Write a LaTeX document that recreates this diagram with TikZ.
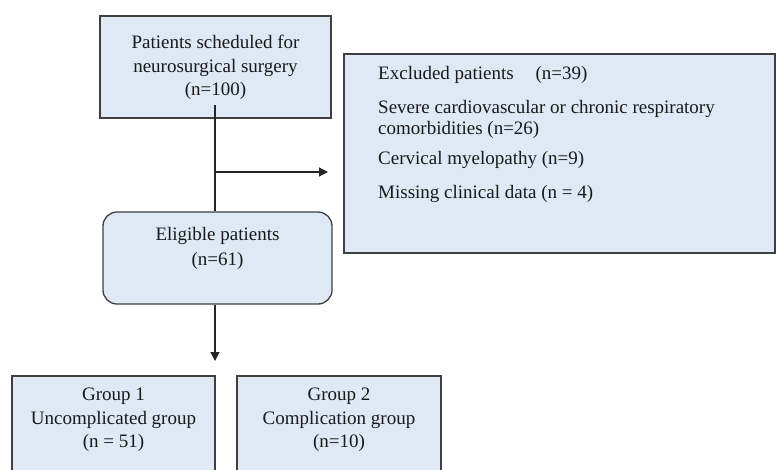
\documentclass[tikz,border=0pt]{standalone}
\usepackage{fontspec}
\setmainfont{Liberation Serif}
\usetikzlibrary{arrows.meta,calc}
\definecolor{boxfill}{HTML}{DEE9F5}
\definecolor{boxline}{HTML}{3F3F3F}
\tikzset{
  box/.style={draw=boxline, fill=boxfill, line width=1.3pt, inner sep=0pt},
  txt/.style={font=\fontsize{19}{23.5}\selectfont, align=center, inner sep=0pt, text=black!90},
  ltxt/.style={font=\fontsize{19}{21.5}\selectfont, align=left, anchor=base west, inner sep=0pt, text=black!90},
  conn/.style={draw=black!85, line width=1.2pt},
  arr/.style={conn, -{Triangle[width=9pt,length=9pt]}}
}
\begin{document}
\begin{tikzpicture}[x=1pt,y=-1pt]
\useasboundingbox (0,0) rectangle (776,469);
\clip (0,0) rectangle (776,469);
% top box
\node[box, minimum width=231pt, minimum height=102pt] (top) at (215.5,67) {};
\node[txt] (toptxt) at (215.5,67.5) {Patients scheduled for\\neurosurgical surgery\\(n=100)};
% excluded box
\node[box, minimum width=431pt, minimum height=199pt] (excl) at (559.5,153.5) {};
\node[ltxt] (e1) at (378,79.5) {Excluded patients\hspace{0.9em} (n=39)};
\node[ltxt] (e2) at (378,134.5) {Severe cardiovascular or chronic respiratory\\comorbidities (n=26)};
\node[ltxt] (e3) at (378,164.5) {Cervical myelopathy (n=9)};
\node[ltxt] (e4) at (378,198.5) {Missing clinical data (n = 4)};
% eligible
\node[box, rounded corners=14pt, minimum width=229pt, minimum height=92pt] (elig) at (217.5,258) {};
\node[txt, font=\fontsize{19}{25}\selectfont] (eligtxt) at (217.5,248) {Eligible patients\\(n=61)};
% groups
\node[box, minimum width=203pt, minimum height=110pt] (g1) at (113.5,431) {};
\node[txt] (g1txt) at (113.5,420) {Group 1\\Uncomplicated group\\(n = 51)};
\node[box, minimum width=204pt, minimum height=110pt] (g2) at (339,431) {};
\node[txt] (g2txt) at (339,420) {Group 2\\Complication group\\(n=10)};
% connectors
\coordinate (s) at (215,105);
\coordinate (branch) at (215,172);
\coordinate (exclend) at (328,172);
\coordinate (down) at (215,361);
\draw[conn] (s) -- (s |- elig.north);
\draw[arr] (branch) -- (exclend);
\draw[arr] (down |- elig.south) -- (down);
\end{tikzpicture}
\end{document}
